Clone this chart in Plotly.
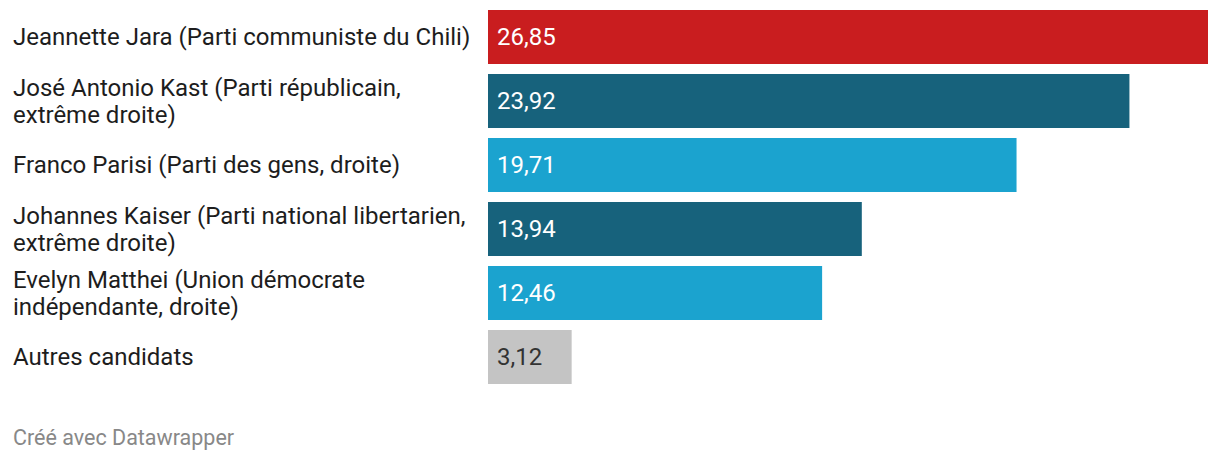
import plotly.graph_objects as go

label_lines = [
    ["Jeannette Jara (Parti communiste du Chili)"],
    ["José Antonio Kast (Parti républicain,", "extrême droite)"],
    ["Franco Parisi (Parti des gens, droite)"],
    ["Johannes Kaiser (Parti national libertarien,", "extrême droite)"],
    ["Evelyn Matthei (Union démocrate", "indépendante, droite)"],
    ["Autres candidats"],
]
values = [26.85, 23.92, 19.71, 13.94, 12.46, 3.12]
value_text = ["26,85", "23,92", "19,71", "13,94", "12,46", "3,12"]
colors = ["#c91d1f", "#17627c", "#1ba3cf", "#17627c", "#1ba3cf", "#c4c4c4"]
text_colors = ["#ffffff", "#ffffff", "#ffffff", "#ffffff", "#ffffff", "#333333"]

cats = [f"c{i}" for i in range(len(label_lines))]

fig = go.Figure(go.Bar(
    y=cats, x=values, orientation="h",
    marker=dict(color=colors, line=dict(width=0)),
    hoverinfo="skip",
))

LINE_GAP = 27
annotations = []
for c, lines in zip(cats, label_lines):
    n = len(lines)
    for i, ln in enumerate(lines):
        shift = ((n - 1) / 2 - i) * LINE_GAP
        annotations.append(dict(
            x=0, xref="paper", xshift=-477, y=c, yref="y", yshift=shift,
            text=ln, showarrow=False, xanchor="left", yanchor="middle",
            align="left", font=dict(family="Roboto", size=24, color="#1d1d1d"),
        ))
for c, v, t, tc in zip(cats, values, value_text, text_colors):
    annotations.append(dict(
        x=0, xref="x", xshift=7, y=c, yref="y",
        text=t, showarrow=False, xanchor="left", yanchor="middle",
        font=dict(family="Roboto", size=24, color=tc),
    ))
annotations.append(dict(
    x=0, xref="paper", xshift=-477, y=0, yref="paper", yshift=-48,
    text="Créé avec Datawrapper", showarrow=False, xanchor="left", yanchor="middle",
    font=dict(family="Roboto", size=21.5, color="#888888"),
))

fig.update_layout(
    width=1220, height=462,
    margin=dict(l=488, r=12, t=5, b=73),
    paper_bgcolor="white", plot_bgcolor="white",
    bargap=10/64,
    showlegend=False,
    xaxis=dict(range=[0, 26.85], visible=False, fixedrange=True),
    yaxis=dict(categoryorder="array", categoryarray=cats[::-1], visible=False,
               fixedrange=True),
    annotations=annotations,
)

fig.write_html("out.html", config={"displayModeBar": False})
with open("out.html", encoding="utf-8") as f:
    html = f.read()
html = html.replace("<body>", '<body style="margin:0;padding:0;overflow:hidden">', 1)
with open("out.html", "w", encoding="utf-8") as f:
    f.write(html)
